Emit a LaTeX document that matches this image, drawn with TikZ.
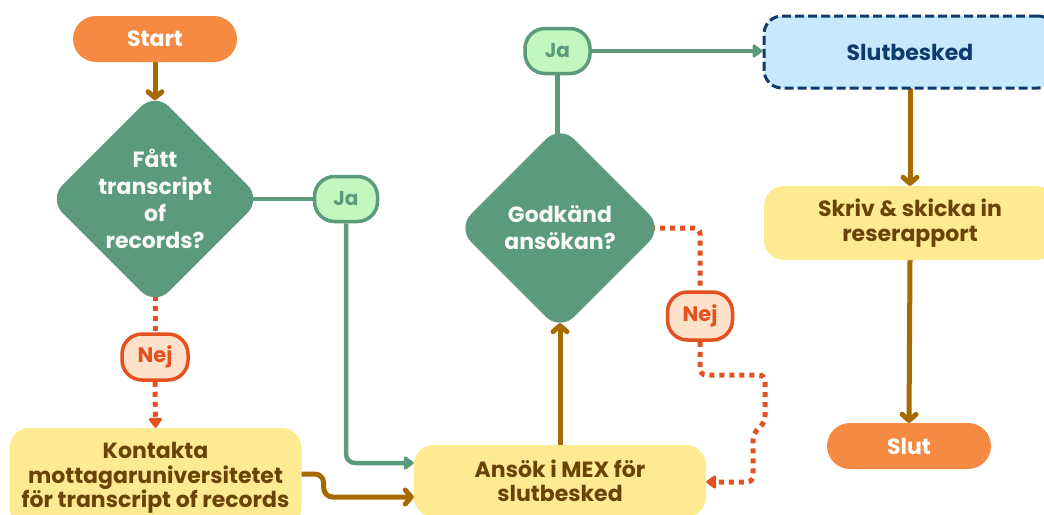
\documentclass[tikz,border=0pt]{standalone}
\usepackage{fontspec}
\setmainfont{Poppins}
\usetikzlibrary{arrows.meta,shapes.geometric,calc,backgrounds}

\definecolor{termorange}{HTML}{F78A43}
\definecolor{decgreen}{HTML}{5C9A7C}
\definecolor{jafill}{HTML}{C3F7C0}
\definecolor{nejfill}{HTML}{FDE1CA}
\definecolor{nejorange}{HTML}{E4511F}
\definecolor{stepyellow}{HTML}{FEEA91}
\definecolor{steptext}{HTML}{6B4306}
\definecolor{flowbrown}{HTML}{A66A00}
\definecolor{endblue}{HTML}{C7E8FD}
\definecolor{endnavy}{HTML}{0D3B6E}

\tikzset{
  lbl/.style={font=\bfseries\fontsize{22}{24.5}\selectfont, align=center, inner sep=0pt},
  term/.style={lbl, fill=termorange, text=white, minimum width=164pt, minimum height=46pt, rounded corners=23pt},
  decision/.style={lbl, shape=diamond, fill=decgreen, text=white!95!decgreen,
    minimum width=206pt, minimum height=206pt, rounded corners=20pt,
    font=\bfseries\fontsize{22}{27}\selectfont},
  stepbox/.style={lbl, fill=stepyellow, text=steptext, minimum width=292pt, rounded corners=20pt},
  yesbadge/.style={lbl, fill=jafill, draw=decgreen, line width=3.5pt, text=decgreen,
    minimum width=63pt, minimum height=45pt, rounded corners=20pt, font=\bfseries\fontsize{20}{22}\selectfont},
  nobadge/.style={lbl, fill=nejfill, draw=nejorange, line width=3.5pt, text=nejorange,
    minimum width=66pt, minimum height=46pt, rounded corners=20pt, font=\bfseries\fontsize{21}{22}\selectfont},
  finalbox/.style={lbl, fill=endblue, draw=endnavy, line width=3pt, dash pattern=on 9pt off 4pt,
    text=endnavy, minimum width=292pt, minimum height=72pt, rounded corners=18pt},
  brarrow/.style={draw=flowbrown, line width=5pt, line cap=round,
    -{Straight Barb[length=6pt,width=14pt,round]}},
  grline/.style={draw=decgreen, line width=4.5pt},
  grarrow/.style={grline, -{Triangle[length=11pt,width=15pt,round]}},
  ordot/.style={draw=nejorange, line width=5pt, dash pattern=on 5pt off 5pt},
  orarrow/.style={ordot, -{Triangle[length=11pt,width=15pt,round]}}
}

\begin{document}
\begin{tikzpicture}[x=1pt,y=-1pt]
  \useasboundingbox (0,0) rectangle (1044,514);
  \clip (0,0) rectangle (1044,514);

  % process nodes
  \node[term] (start) at (155,39) {Start};
  \node[decision] (d1) at (155,199) {Fått\\transcript\\of\\records?};
  \node[yesbadge] (ja1) at (346,199) {Ja};
  \node[nobadge] (nej1) at (155,357) {Nej};
  \node[stepbox, minimum height=100pt] (kontakta) at (155.5,478)
    {Kontakta\\mottagaruniversitetet\\för transcript of records};
  \node[stepbox, minimum height=72pt] (ansok) at (560,481) {Ansök i MEX för\\slutbesked};
  \node[decision] (d2) at (560,228) {Godkänd\\ansökan?};
  \node[yesbadge, minimum width=65pt] (ja2) at (557.5,51) {Ja};
  \node[nobadge, minimum width=65pt, minimum height=48pt] (nej2) at (700,316) {Nej};
  \node[finalbox] (slutb) at (910,52) {Slutbesked};
  \node[stepbox, minimum height=74pt] (skriv) at (910,223) {Skriv \& skicka in\\reserapport};
  \node[term] (slut) at (909,446) {Slut};

  % connectors (behind the shapes)
  \begin{scope}[on background layer]
    \draw[brarrow] (start.south) -- ($(d1.north)+(0,8)$);
    \draw[grline] (d1.center) -- (ja1.west);
    \draw[grarrow, rounded corners=9pt] (ja1.south) |- ($(ansok.west)+(0,-18)$);
    \draw[ordot] ($(d1.south)+(0,-10)$) -- (nej1.north);
    \draw[orarrow] (nej1.south) -- (kontakta.north);
    \draw[brarrow, rounded corners=9pt] ($(kontakta.east)+(0,-4)$) -- ++(22,0) |- ($(ansok.west)+(0,16)$);
    \draw[brarrow] (ansok.north) -- ($(d2.south)+(0,-8)$);
    \draw[grline] (ja2.south) -- (ja2.south |- d2.center);
    \draw[grarrow] (ja2.east) -- (slutb.west |- ja2.east);
    \draw[ordot, rounded corners=6pt] (d2.center) -| (nej2.north);
    \draw[orarrow, rounded corners=6pt] (nej2.south) |- (765,375) -- (765,422)
      -- (753,434) |- ($(ansok.east)+(0,1)$);
    \draw[brarrow] (slutb.south) -- (skriv.north);
    \draw[brarrow] (skriv.south) -- (slut.north);
  \end{scope}
\end{tikzpicture}
\end{document}
